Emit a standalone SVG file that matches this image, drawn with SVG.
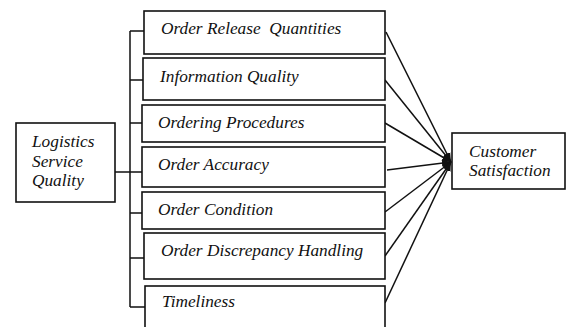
<svg xmlns="http://www.w3.org/2000/svg" width="567" height="327" viewBox="0 0 567 327">
<defs>
<style>
.box{fill:#fff;stroke:#111;stroke-width:1.6}
.c{fill:none;stroke:#111;stroke-width:1.5}
</style>
<marker id="ah" viewBox="0 0 10 10" refX="10" refY="5" markerWidth="9" markerHeight="9" orient="auto" markerUnits="userSpaceOnUse">
<path d="M0,1 L10,5 L0,9 z" fill="#111"/>
</marker>
</defs>
<rect width="567" height="327" fill="#fff"/>
<g id="connectors">
<path class="c" d="M115,172 H130 M130,31 V307 M130,31 H144 M130,80 H144 M130,123 H142 M130,172 H142 M130,213 H142 M130,258 H144 M130,307 H145"/>
<path class="c" marker-end="url(#ah)" d="M386,32 L451,162"/>
<path class="c" marker-end="url(#ah)" d="M385,80 L451,162"/>
<path class="c" marker-end="url(#ah)" d="M385,123 L451,162"/>
<path class="c" marker-end="url(#ah)" d="M387,170 L451,162"/>
<path class="c" marker-end="url(#ah)" d="M385,212 L451,162"/>
<path class="c" marker-end="url(#ah)" d="M385,256 L451,162"/>
<path class="c" marker-end="url(#ah)" d="M385,303 L451,162"/>
</g>
<g font-family="Liberation Serif, serif" font-style="italic" font-size="17.3" fill="#111">
<g id="lsq"><rect class="box" x="16" y="123" width="99" height="79"/>
<text x="32" y="147">Logistics</text><text x="32" y="167">Service</text><text x="32" y="186">Quality</text></g>
<g id="n1"><rect class="box" x="144" y="11" width="241" height="43"/><text x="161" y="34" xml:space="preserve">Order Release  Quantities</text></g>
<g id="n2"><rect class="box" x="143" y="58" width="242" height="42"/><text x="160" y="82">Information Quality</text></g>
<g id="n3"><rect class="box" x="142" y="105" width="243" height="37"/><text x="158" y="128">Ordering Procedures</text></g>
<g id="n4"><rect class="box" x="142" y="147" width="243" height="40"/><text x="158" y="170">Order Accuracy</text></g>
<g id="n5"><rect class="box" x="142" y="192" width="243" height="37"/><text x="158" y="215">Order Condition</text></g>
<g id="n6"><rect class="box" x="144" y="233" width="241" height="46"/><text x="161" y="256">Order Discrepancy Handling</text></g>
<g id="n7"><rect class="box" x="145" y="286" width="240" height="50"/><text x="162" y="307">Timeliness</text></g>
<g id="cs"><rect class="box" x="452" y="133" width="113" height="56"/>
<text x="469" y="157">Customer</text><text x="469" y="176">Satisfaction</text></g>
</g>
</svg>
